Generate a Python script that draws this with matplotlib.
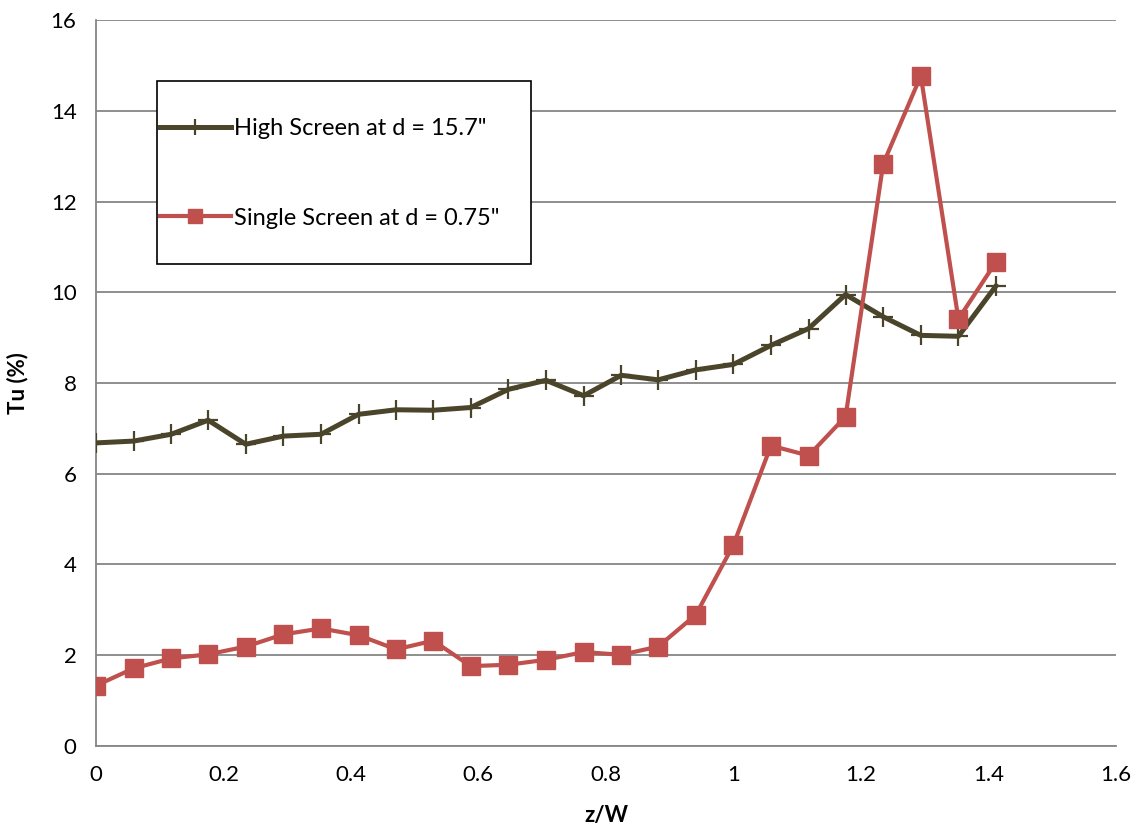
import matplotlib.pyplot as plt
from matplotlib.patches import Rectangle

# z/W positions of the measurement points
z_w = [0.000, 0.059, 0.118, 0.176, 0.235, 0.294, 0.353, 0.412, 0.471,
       0.529, 0.588, 0.647, 0.706, 0.765, 0.824, 0.882, 0.941, 1.000,
       1.059, 1.118, 1.176, 1.235, 1.294, 1.353, 1.412]

# Tu (%) for each screen setup
tu_high = [6.68, 6.72, 6.87, 7.18, 6.65, 6.83, 6.87, 7.31, 7.41,
           7.40, 7.46, 7.86, 8.06, 7.72, 8.17, 8.07, 8.29, 8.41,
           8.83, 9.20, 9.95, 9.46, 9.05, 9.03, 10.14]
tu_single = [1.33, 1.71, 1.93, 2.02, 2.19, 2.46, 2.59, 2.44, 2.13,
             2.32, 1.76, 1.79, 1.90, 2.07, 2.01, 2.19, 2.89, 4.43,
             6.62, 6.40, 7.26, 12.83, 14.77, 9.41, 10.67]

label_high = 'High Screen at d = 15.7"'
label_single = 'Single Screen at d = 0.75"'

plt.rcParams['font.family'] = ['Lato', 'DejaVu Sans']

fig = plt.figure(figsize=(11.37, 8.36), dpi=100)
ax = fig.add_axes([0.0844, 0.1077, 0.897, 0.8683])

ax.plot(z_w, tu_high, color='#4A442A', lw=3.6, marker='+', ms=15, mew=1.6,
        label=label_high, zorder=3)
ax.plot(z_w, tu_single, color='#C0504D', lw=3.0, marker='s', ms=13,
        label=label_single, zorder=4)

ax.set_xlim(0, 1.6)
ax.set_ylim(0, 16)
ax.set_xticks([0, 0.2, 0.4, 0.6, 0.8, 1.0, 1.2, 1.4, 1.6])
ax.set_xticklabels(['0', '0.2', '0.4', '0.6', '0.8', '1', '1.2', '1.4', '1.6'])
ax.set_yticks(range(0, 17, 2))
ax.tick_params(length=0, labelsize=16, pad=14)

ax.grid(axis='y', color='#868686', lw=1.3)
ax.set_axisbelow(True)
for s in ['top', 'right']:
    ax.spines[s].set_visible(False)
ax.spines['left'].set_color('#868686')
ax.spines['bottom'].set_color('#868686')
ax.spines['left'].set_linewidth(1.3)
ax.spines['bottom'].set_linewidth(1.3)

ax.set_xlabel('z/W', fontsize=16, fontweight='bold', labelpad=14)
ax.set_ylabel('Tu (%)', fontsize=16, fontweight='bold', labelpad=16)

# legend box drawn separately so the padding can match
ax.add_patch(Rectangle((0.06, 0.664), 0.3667, 0.252, transform=ax.transAxes,
                       facecolor='white', edgecolor='black', lw=1.2, zorder=5))
leg = ax.legend(loc='upper left', bbox_to_anchor=(0.0627, 0.865), fontsize=17,
                frameon=False, labelspacing=2.9, borderpad=0,
                handlelength=3.0, handletextpad=0.15, borderaxespad=0,
                markerscale=0.75)
leg.set_zorder(6)

plt.savefig('out.png', dpi=100)
